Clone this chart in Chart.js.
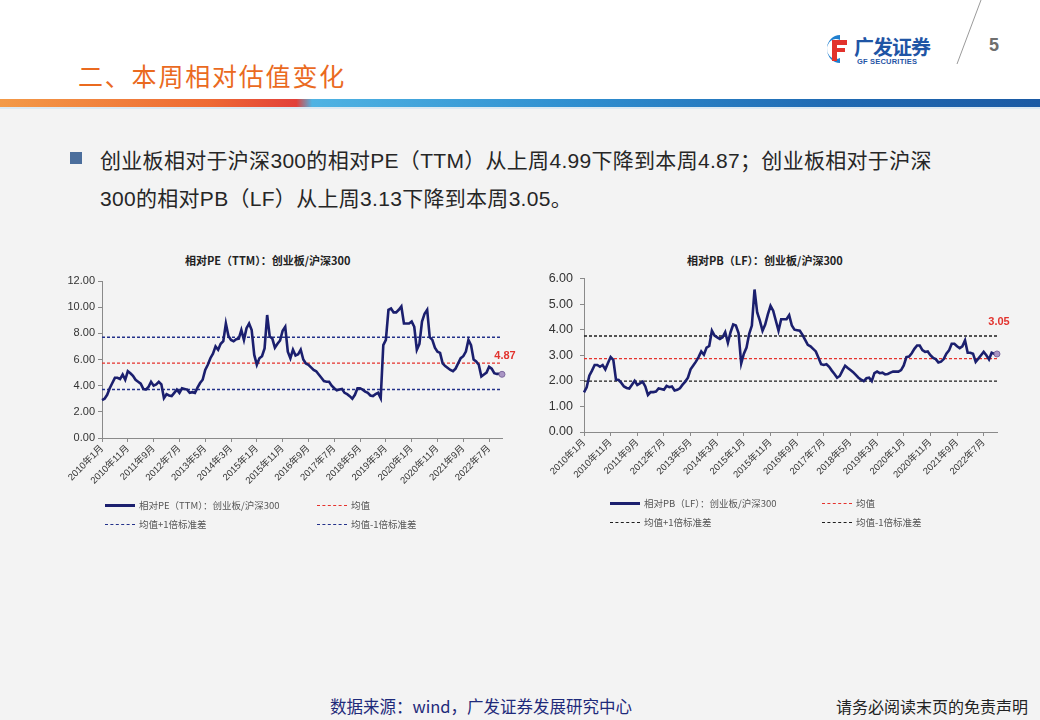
<!DOCTYPE html>
<html>
<head>
<meta charset="utf-8">
<script src="https://cdn.jsdelivr.net/npm/chart.js@4.4.1/dist/chart.umd.min.js"></script>
<style>
  html, body { margin: 0; padding: 0; }
  body { width: 1040px; height: 720px; position: relative; background: #f3f3f3; overflow: hidden;
         font-family: "Liberation Sans", "Noto Sans CJK SC", sans-serif; }
  .abs { position: absolute; }
  #header { left: 0; top: 0; width: 1040px; height: 99px; background: #fff; }
  #stripe { left: 0; top: 99px; width: 1040px; height: 8px;
            background: linear-gradient(to right, #f39a48 0%, #ee6a34 20%, #e2403a 28.5%, #4fb3e3 30%, #2f8fd0 55%, #1f6ab3 80%, #1b5aa4 100%); }
  #stripe2 { left: 0; top: 107px; width: 1040px; height: 2px; background: #dce9f2; }
  #title { left: 78px; top: 57px; font-size: 25px; color: #ea6a1f; font-family: "Noto Sans CJK SC", sans-serif; letter-spacing: 1.8px; }
  #pageno { left: 989px; top: 35px; font-size: 18px; font-weight: bold; color: #6f6f6f; }
  #logoTxt { left: 854px; top: 32px; font-size: 20px; font-weight: bold; color: #1f55a5; font-family: "Noto Sans CJK SC", sans-serif; letter-spacing: -1px; }
  #logoSub { left: 857px; top: 57px; font-size: 7.5px; font-weight: bold; color: #1f55a5; letter-spacing: 0.2px; }
  #logoIcon { left: 823px; top: 33px; width: 26px; height: 32px; }
  #bullet { left: 70px; top: 152px; width: 12px; height: 12px; background: #4b6e9c; }
  .para { left: 100px; font-size: 21px; color: #262626; white-space: nowrap; letter-spacing: 0.3px; }
  .ctitle { font-size: 11px; font-weight: bold; color: #222; font-family: "Noto Sans CJK SC", sans-serif; white-space: nowrap; }
  .legend { font-size: 9.5px; color: #555; font-family: "Noto Sans CJK SC", sans-serif; }
  .lg-item { position: absolute; white-space: nowrap; display: flex; align-items: center; }
  .lg-line { width: 30px; height: 0; margin-right: 4px; }
  #src { left: 330px; top: 694px; font-size: 16.5px; color: #1e2a7a; font-family: "Noto Sans CJK SC", sans-serif; }
  #disc { left: 836px; top: 694px; font-size: 16px; color: #222; font-family: "Noto Sans CJK SC", sans-serif; }
</style>
</head>
<body>
<div id="header" class="abs"></div>
<div id="stripe" class="abs"></div>
<div id="stripe2" class="abs"></div>
<div id="title" class="abs">二、本周相对估值变化</div>
<svg class="abs" style="left:940px;top:0" width="60" height="70"><line x1="41" y1="0" x2="17" y2="64" stroke="#9a9a9a" stroke-width="1"/></svg>
<div id="pageno" class="abs">5</div>
<svg id="logoIcon" class="abs" viewBox="0 0 26 32">
  <path d="M17 2 A13 14 0 1 0 17 30 L17 25 A9 10 0 1 1 17 7 Z" fill="#1f7fcf"/>
  <path d="M9 7 H24 V12 H14 V15 H22 V19 H14 V28 H9 Z" fill="#e2322c"/>
</svg>
<div id="logoTxt" class="abs">广发证券</div>
<div id="logoSub" class="abs">GF SECURITIES</div>

<div id="bullet" class="abs"></div>
<div class="abs para" style="top:144px">创业板相对于沪深300的相对PE（TTM）从上周4.99下降到本周4.87；创业板相对于沪深</div>
<div class="abs para" style="top:182px">300的相对PB（LF）从上周3.13下降到本周3.05。</div>

<div class="abs ctitle" id="t1" style="left:185px;top:252px">相对PE（TTM）：创业板/沪深300</div>
<div class="abs ctitle" id="t2" style="left:687px;top:252px">相对PB（LF）：创业板/沪深300</div>

<canvas id="chart1" class="abs" width="500" height="230" style="left:40px;top:270px"></canvas>
<canvas id="chart2" class="abs" width="510" height="236" style="left:530px;top:264px"></canvas>

<div id="legend1" class="abs legend" style="left:105px;top:498px;width:420px;height:40px"></div>
<div id="legend2" class="abs legend" style="left:610px;top:496px;width:420px;height:40px"></div>

<div id="src" class="abs">数据来源：wind，广发证券发展研究中心</div>
<div id="disc" class="abs">请务必阅读末页的免责声明</div>

<script>
// monthly series, 2010-01 .. 2022-12
const START_YEAR = 2010;
const START_MONTH = 1;

const PE_VALUES = [
  2.9, 3.0, 3.3, 3.8, 4.2, 4.6, 4.6, 4.5, 4.85, 4.45,
  5.1, 4.95, 4.75, 4.45, 4.3, 4.15, 3.75, 3.7, 3.9, 4.3,
  4.0, 4.1, 4.3, 4.1, 3.05, 3.35, 3.25, 3.2, 3.45, 3.7,
  3.45, 3.8, 3.75, 3.7, 3.45, 3.5, 3.45, 3.85, 4.2, 4.45,
  5.2, 5.6, 6.1, 6.45, 7.0, 6.75, 7.2, 7.4, 8.75, 7.8,
  7.5, 7.4, 7.55, 7.6, 8.25, 7.5, 8.4, 8.75, 8.25, 6.35,
  5.6, 6.1, 6.25, 6.85, 9.4, 7.75, 7.6, 6.9, 7.2, 7.45,
  8.2, 8.5, 6.6, 6.1, 6.75, 6.3, 6.4, 6.75, 6.0, 5.7,
  5.6, 5.4, 5.2, 5.1, 4.85, 4.6, 4.35, 4.3, 4.3, 4.0,
  3.8, 3.65, 3.7, 3.75, 3.45, 3.35, 3.2, 3.0, 3.3, 3.8,
  3.8, 3.7, 3.55, 3.45, 3.25, 3.2, 3.35, 3.45, 3.05, 7.1,
  7.5, 9.8, 9.9, 9.6, 9.6, 9.8, 10.05, 8.75, 8.75, 8.75,
  8.9, 8.5, 6.75, 7.2, 8.9, 9.5, 9.8, 7.7, 7.5, 6.9,
  6.6, 6.5, 5.7, 5.5, 5.35, 5.2, 5.1, 5.3, 5.7, 6.1,
  6.25, 6.6, 7.5, 7.1, 6.0, 5.85, 5.6, 4.7, 4.85, 5.0,
  5.45, 5.3, 4.95, 4.9, 4.9, 4.87
];
const PE_MEAN = 5.72;
const PE_PLUS_1SD = 7.70;
const PE_MINUS_1SD = 3.71;

const PB_VALUES = [
  1.55, 1.75, 2.2, 2.4, 2.62, 2.62, 2.55, 2.62, 2.45, 2.7,
  2.93, 2.82, 2.05, 2.03, 1.92, 1.78, 1.72, 1.7, 1.85, 2.0,
  1.84, 1.9, 1.97, 1.78, 1.45, 1.56, 1.56, 1.58, 1.7, 1.68,
  1.65, 1.8, 1.75, 1.78, 1.62, 1.65, 1.71, 1.85, 1.97, 2.12,
  2.45, 2.6, 2.75, 2.93, 3.15, 3.02, 3.3, 3.36, 3.96, 3.77,
  3.7, 3.64, 3.7, 3.9, 3.49, 3.9, 4.2, 4.16, 3.87, 2.68,
  3.06, 3.3, 3.84, 4.16, 5.57, 4.67, 4.35, 3.96, 4.2, 4.6,
  4.93, 4.74, 4.35, 3.96, 4.41, 4.41, 4.41, 4.57, 4.16, 4.0,
  3.98, 3.96, 3.8, 3.6, 3.41, 3.35, 3.25, 3.15, 2.9, 2.65,
  2.62, 2.65, 2.55, 2.4, 2.27, 2.12, 2.19, 2.4, 2.59, 2.5,
  2.42, 2.34, 2.23, 2.12, 2.05, 1.99, 2.1, 2.12, 1.99, 2.3,
  2.36, 2.3, 2.32, 2.25, 2.27, 2.32, 2.36, 2.36, 2.36, 2.42,
  2.6, 2.93, 2.95, 3.08, 3.25, 3.38, 3.38, 3.2, 3.13, 3.15,
  3.0, 2.9, 2.85, 2.72, 2.75, 2.85, 3.06, 3.19, 3.45, 3.45,
  3.35, 3.28, 3.35, 3.58, 3.1, 3.1, 3.06, 2.74, 2.87, 3.0,
  3.13, 3.0, 2.84, 3.1, 3.05, 3.05
];
const PB_MEAN = 2.87;
const PB_PLUS_1SD = 3.75;
const PB_MINUS_1SD = 1.99;

const TICK_EVERY = 10; // a label every 10 months

const months = [];
for (let i = 0; i < PE_VALUES.length; i++) {
    const m = START_MONTH - 1 + i;
    months.push((START_YEAR + Math.floor(m / 12)) + '年' + (m % 12 + 1) + '月');
}
const FIRST = months[0];
const LAST = months[months.length - 1];

// last value label, e.g. "4.87"
const lastValuePlugin = {
    id: 'lastValue',
    afterDatasetsDraw(chart, args, opts) {
        const meta = chart.getDatasetMeta(0);
        const pt = meta.data[meta.data.length - 1];
        const v = chart.data.datasets[0].data[meta.data.length - 1];
        const ctx = chart.ctx;
        ctx.save();
        ctx.fillStyle = '#e2332e';
        ctx.font = 'bold 11px "Liberation Sans", sans-serif';
        ctx.textAlign = 'center';
        ctx.textBaseline = 'middle';
        ctx.fillText(v.toFixed(2), pt.x + opts.dx, pt.y + opts.dy);
        ctx.restore();
    }
};

const buildLegend = (chart, el) => {
    el.innerHTML = '';
    const pos = [[0, 0], [212, 0], [0, 19], [212, 19]];
    chart.data.datasets.forEach((ds, i) => {
        const item = document.createElement('div');
        item.className = 'lg-item';
        item.style.left = pos[i][0] + 'px';
        item.style.top = pos[i][1] + 'px';
        const ln = document.createElement('span');
        ln.className = 'lg-line';
        ln.style.borderTop = (ds.borderDash ? '1.5px dashed ' : '3px solid ') + ds.borderColor;
        item.appendChild(ln);
        const tx = document.createElement('span');
        tx.textContent = ds.label;
        item.appendChild(tx);
        el.appendChild(item);
    });
};

const makeChart = (id, o) => {
    const ctx = document.getElementById(id);
    const flat = (y) => [{ x: FIRST, y: y }, { x: LAST, y: y }];
    const chart = new Chart(ctx, {
        type: 'line',
        data: {
            labels: months,
            datasets: [
                {
                    label: o.name,
                    data: o.values,
                    borderColor: '#1b1f6e',
                    borderWidth: 2.6,
                    tension: 0,
                    pointRadius: (c) => c.dataIndex === o.values.length - 1 ? 3 : 0,
                    pointBackgroundColor: '#a995c4',
                    pointBorderColor: '#7d6a9e',
                    pointBorderWidth: 1
                },
                {
                    label: '均值',
                    data: flat(o.mean),
                    borderColor: '#e5322d',
                    borderWidth: 1.2,
                    borderDash: [3, 2],
                    pointRadius: 0
                },
                {
                    label: '均值+1倍标准差',
                    data: flat(o.up),
                    borderColor: o.sdColor,
                    borderWidth: 1.4,
                    borderDash: [3, 2],
                    pointRadius: 0
                },
                {
                    label: '均值-1倍标准差',
                    data: flat(o.down),
                    borderColor: o.sdColor,
                    borderWidth: 1.4,
                    borderDash: [3, 2],
                    pointRadius: 0
                }
            ]
        },
        options: {
            responsive: false,
            animation: false,
            layout: { padding: o.padding },
            plugins: {
                legend: { display: false },
                title: { display: false },
                tooltip: { enabled: false },
                lastValue: { dx: o.labelDx, dy: o.labelDy }
            },
            scales: {
                x: {
                    afterFit: (s) => { s.height = o.xHeight; },
                    grid: { drawOnChartArea: false, color: '#8a8a8a', tickLength: 4 },
                    border: { color: '#8a8a8a', width: 1 },
                    ticks: {
                        autoSkip: false,
                        minRotation: 45,
                        maxRotation: 45,
                        padding: 1,
                        color: '#333',
                        font: { size: 9.5, family: '"Liberation Sans", "Noto Sans CJK SC", sans-serif' },
                        callback: function (value, index) {
                            return index % TICK_EVERY === 0 ? this.getLabelForValue(value) : null;
                        }
                    }
                },
                y: {
                    min: 0,
                    max: o.yMax,
                    afterFit: (s) => { s.width = o.yWidth; },
                    grid: { drawOnChartArea: false, color: '#8a8a8a', tickLength: 4 },
                    border: { color: '#8a8a8a', width: 1 },
                    ticks: {
                        stepSize: o.yStep,
                        padding: o.yPad,
                        color: '#333',
                        font: { size: o.yFont, family: '"Liberation Sans", sans-serif' },
                        callback: (v) => v.toFixed(2)
                    }
                }
            }
        },
        plugins: [lastValuePlugin]
    });
    return chart;
};

const chart1 = makeChart('chart1', {
    name: '相对PE（TTM）：创业板/沪深300',
    values: PE_VALUES, mean: PE_MEAN, up: PE_PLUS_1SD, down: PE_MINUS_1SD,
    sdColor: '#23318a',
    yMax: 12, yStep: 2, yWidth: 62, yPad: 3, yFont: 11,
    xHeight: 62,
    labelDx: 3, labelDy: -18,
    padding: { top: 11, right: 38, left: 0, bottom: 0 }
});

const chart2 = makeChart('chart2', {
    name: '相对PB（LF）：创业板/沪深300',
    values: PB_VALUES, mean: PB_MEAN, up: PB_PLUS_1SD, down: PB_MINUS_1SD,
    sdColor: '#1e1e1e',
    yMax: 6, yStep: 1, yWidth: 54, yPad: 7, yFont: 12.5,
    xHeight: 68,
    labelDx: 2, labelDy: -32,
    padding: { top: 13, right: 43, left: 0, bottom: 0 }
});

buildLegend(chart1, document.getElementById('legend1'));
buildLegend(chart2, document.getElementById('legend2'));
</script>
</body>
</html>
